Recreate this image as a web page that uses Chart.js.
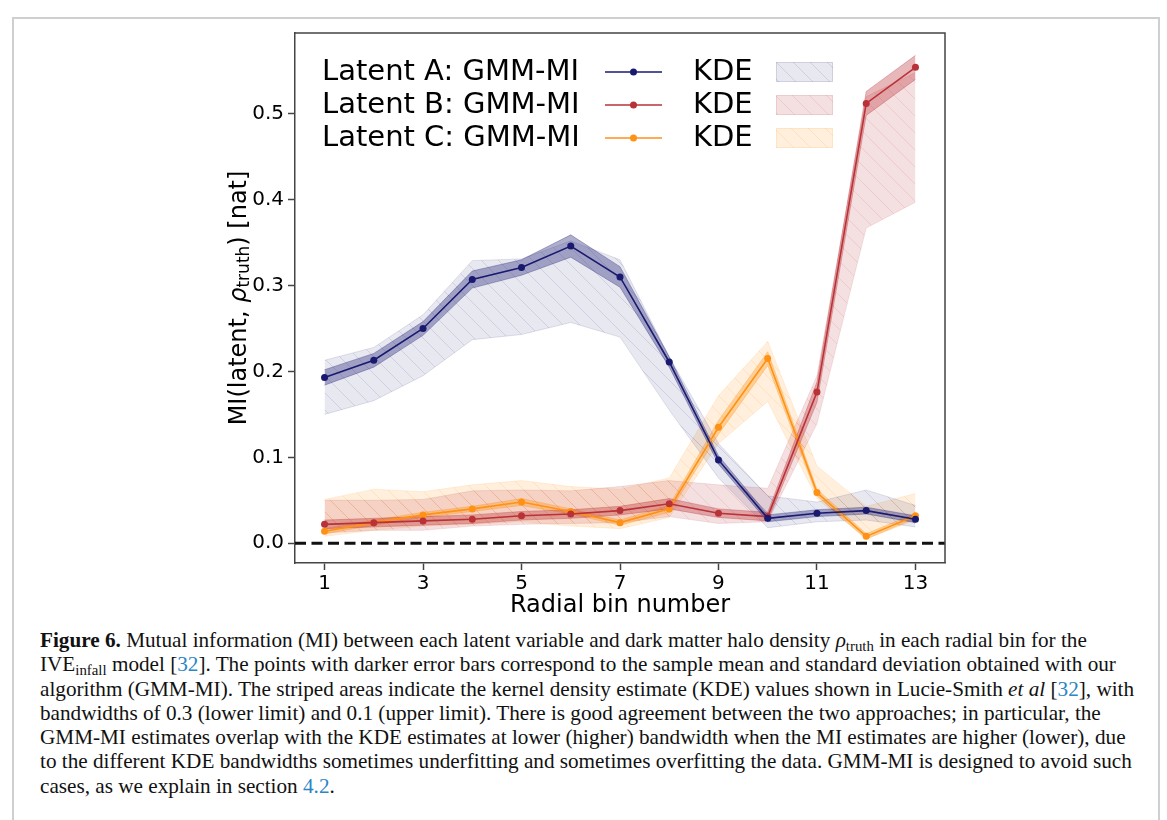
<!DOCTYPE html>
<html>
<head>
<meta charset="utf-8">
<script src="https://cdn.jsdelivr.net/npm/chart.js@4.4.1/dist/chart.umd.min.js"></script>
<style>
  html, body { margin: 0; padding: 0; background: #fff; }
  body { width: 1167px; height: 820px; position: relative; overflow: hidden; }
  .frame { position: absolute; left: 12px; top: 17px; width: 1144px; height: 830px; border: 2px solid #cfcfcf; border-bottom: none; }
  .wrap { position: absolute; left: 0; top: 0; width: 1167px; height: 625px; }
  .caption { position: absolute; left: 40px; top: 628px; font-family: "Liberation Serif", "DejaVu Serif", serif; font-size: 21.2px; line-height: 24.3px; color: #111; white-space: nowrap; }
  .caption a { color: #2a86c4; text-decoration: none; }
  .caption sub { font-size: 70%; line-height: 0; vertical-align: -0.3em; }
</style>
</head>
<body>
<div class="frame"></div>
<div class="wrap"><canvas id="chart" width="1167" height="625"></canvas></div>
<div class="caption">
<b>Figure 6.</b> Mutual information (MI) between each latent variable and dark matter halo density <i>ρ</i><sub>truth</sub> in each radial bin for the<br>
IVE<sub>infall</sub> model [<a>32</a>]. The points with darker error bars correspond to the sample mean and standard deviation obtained with our<br>
algorithm (GMM-MI). The striped areas indicate the kernel density estimate (KDE) values shown in Lucie-Smith <i>et al</i> [<a>32</a>], with<br>
bandwidths of 0.3 (lower limit) and 0.1 (upper limit). There is good agreement between the two approaches; in particular, the<br>
GMM-MI estimates overlap with the KDE estimates at lower (higher) bandwidth when the MI estimates are higher (lower), due<br>
to the different KDE bandwidths sometimes underfitting and sometimes overfitting the data. GMM-MI is designed to avoid such<br>
cases, as we explain in section <a>4.2</a>.
</div>
<script>
const bins = [1, 2, 3, 4, 5, 6, 7, 8, 9, 10, 11, 12, 13]
const xTicks = [1, 3, 5, 7, 9, 11, 13]
const yTicks = [0, 0.1, 0.2, 0.3, 0.4, 0.5]
const legendNames = ['Latent A: GMM-MI', 'Latent B: GMM-MI', 'Latent C: GMM-MI']
const kdeLabel = 'KDE'

// GMM-MI mean and std
const latentA = [0.193, 0.213, 0.250, 0.307, 0.321, 0.346, 0.310, 0.211, 0.097, 0.029, 0.035, 0.038, 0.028]
const latentAErr = [0.009, 0.008, 0.008, 0.010, 0.009, 0.013, 0.012, 0.006, 0.005, 0.004, 0.004, 0.004, 0.004]
const latentB = [0.022, 0.024, 0.026, 0.028, 0.032, 0.034, 0.038, 0.046, 0.035, 0.031, 0.176, 0.512, 0.554]
const latentBErr = [0.005, 0.005, 0.005, 0.005, 0.005, 0.005, 0.005, 0.006, 0.005, 0.005, 0.012, 0.014, 0.014]
const latentC = [0.014, 0.024, 0.033, 0.040, 0.048, 0.037, 0.024, 0.040, 0.135, 0.215, 0.059, 0.008, 0.032]
const latentCErr = [0.003, 0.003, 0.003, 0.003, 0.004, 0.003, 0.003, 0.004, 0.008, 0.008, 0.004, 0.003, 0.003]

// KDE limits (bandwidth 0.3 lower, 0.1 upper)
const kdeALow = [0.150, 0.166, 0.195, 0.237, 0.243, 0.257, 0.240, 0.155, 0.076, 0.018, 0.025, 0.027, 0.019]
const kdeAHigh = [0.213, 0.228, 0.266, 0.329, 0.331, 0.352, 0.330, 0.217, 0.116, 0.055, 0.048, 0.062, 0.044]
const kdeBLow = [0.012, 0.015, 0.015, 0.020, 0.022, 0.023, 0.024, 0.031, 0.023, 0.025, 0.139, 0.367, 0.397]
const kdeBHigh = [0.050, 0.050, 0.051, 0.061, 0.062, 0.061, 0.066, 0.073, 0.068, 0.064, 0.195, 0.520, 0.548]
const kdeCLow = [0.008, 0.015, 0.020, 0.022, 0.025, 0.020, 0.017, 0.030, 0.116, 0.165, 0.052, 0.005, 0.027]
const kdeCHigh = [0.051, 0.063, 0.060, 0.068, 0.073, 0.066, 0.063, 0.076, 0.172, 0.235, 0.090, 0.043, 0.058]

const colA = '25,25,112'
const colB = '185,50,55'
const colC = '255,145,20'

const canvas = document.getElementById('chart')
const ctx0 = canvas.getContext('2d')

function hatch(rgb, a1, a2) {
  const s = 17
  const c = document.createElement('canvas')
  c.width = s; c.height = s
  const g = c.getContext('2d')
  g.fillStyle = 'rgba(' + rgb + ',' + a1 + ')'
  g.fillRect(0, 0, s, s)
  g.strokeStyle = 'rgba(' + rgb + ',' + a2 + ')'
  g.lineWidth = 1
  g.beginPath()
  g.moveTo(-2, -2); g.lineTo(s + 2, s + 2)
  g.moveTo(-2, s - 2); g.lineTo(2, s + 2)
  g.moveTo(s - 2, -2); g.lineTo(s + 2, 2)
  g.stroke()
  return ctx0.createPattern(c, 'repeat')
}

const series = [
  { mean: latentA, err: latentAErr, lo: kdeALow, hi: kdeAHigh, rgb: colA, pat: hatch(colA, 0.1, 0.12) },
  { mean: latentB, err: latentBErr, lo: kdeBLow, hi: kdeBHigh, rgb: colB, pat: hatch(colB, 0.15, 0.12) },
  { mean: latentC, err: latentCErr, lo: kdeCLow, hi: kdeCHigh, rgb: colC, pat: hatch(colC, 0.15, 0.14) }
]

function pts(arr) {
  return bins.map((b, i) => ({ x: b, y: arr[i] }))
}

const datasets = []
series.forEach((s) => {
  let base = datasets.length
  datasets.push({ data: pts(s.lo), borderColor: 'rgba(' + s.rgb + ',0.12)', borderWidth: 1, pointRadius: 0, fill: false, order: 10 })
  datasets.push({ data: pts(s.hi), borderColor: 'rgba(' + s.rgb + ',0.12)', borderWidth: 1, pointRadius: 0, fill: { target: base }, backgroundColor: s.pat, order: 10 })
  base = datasets.length
  datasets.push({ data: pts(s.mean.map((v, i) => v - s.err[i])), borderColor: 'rgba(' + s.rgb + ',0.3)', borderWidth: 1, pointRadius: 0, fill: false, order: 5 })
  datasets.push({ data: pts(s.mean.map((v, i) => v + s.err[i])), borderColor: 'rgba(' + s.rgb + ',0.3)', borderWidth: 1, pointRadius: 0, fill: { target: base }, backgroundColor: 'rgba(' + s.rgb + ',0.35)', order: 5 })
  datasets.push({ data: pts(s.mean), borderColor: 'rgb(' + s.rgb + ')', backgroundColor: 'rgb(' + s.rgb + ')', borderWidth: 1.6, pointRadius: 3.5, pointBorderWidth: 0, fill: false, order: 1 })
})

const font = '"DejaVu Sans", sans-serif'

const decor = {
  id: 'decor',
  afterDatasetsDraw(chart) {
    const { ctx, chartArea: a, scales: { y } } = chart
    const y0 = y.getPixelForValue(0)
    ctx.save()
    ctx.strokeStyle = '#111'
    ctx.lineWidth = 2.8
    ctx.setLineDash([11, 5.5])
    ctx.beginPath(); ctx.moveTo(a.left, y0); ctx.lineTo(a.right, y0); ctx.stroke()
    ctx.restore()
  },
  afterDraw(chart) {
    const { ctx, chartArea: a } = chart
    ctx.save()
    // top and right spines
    ctx.strokeStyle = '#444'
    ctx.lineWidth = 1.5
    ctx.beginPath()
    ctx.moveTo(a.left, a.top); ctx.lineTo(a.right, a.top); ctx.lineTo(a.right, a.bottom)
    ctx.stroke()

    // legend
    const rows = [72, 105, 138]
    ctx.font = '29px ' + font
    ctx.textBaseline = 'middle'
    series.forEach((s, i) => {
      const ry = rows[i]
      ctx.fillStyle = '#000'
      ctx.textAlign = 'left'
      ctx.fillText(legendNames[i], 322, ry)
      ctx.fillText(kdeLabel, 693, ry)
      ctx.strokeStyle = 'rgb(' + s.rgb + ')'
      ctx.lineWidth = 1.6
      ctx.beginPath(); ctx.moveTo(605, ry); ctx.lineTo(662, ry); ctx.stroke()
      ctx.fillStyle = 'rgb(' + s.rgb + ')'
      ctx.beginPath(); ctx.arc(633.5, ry, 3.5, 0, Math.PI * 2); ctx.fill()
      ctx.fillStyle = s.pat
      ctx.fillRect(776, ry - 10, 57, 20)
      ctx.strokeStyle = 'rgba(' + s.rgb + ',0.12)'
      ctx.lineWidth = 1
      ctx.strokeRect(776.5, ry - 9.5, 56, 19)
    })

    // x title
    ctx.fillStyle = '#000'
    ctx.textAlign = 'center'
    ctx.font = '24px ' + font
    ctx.fillText('Radial bin number', (a.left + a.right) / 2, 606)

    // y title with subscript
    const parts = [
      { t: 'MI(latent, ', f: '24px ' + font, dy: 0 },
      { t: 'ρ', f: 'italic 24px ' + font, dy: 0 },
      { t: 'truth', f: '17px ' + font, dy: 5 },
      { t: ') [nat]', f: '24px ' + font, dy: 0 }
    ]
    let total = 0
    parts.forEach(p => { ctx.font = p.f; p.w = ctx.measureText(p.t).width; total += p.w })
    ctx.translate(240, (a.top + a.bottom) / 2)
    ctx.rotate(-Math.PI / 2)
    ctx.textAlign = 'left'
    let px = -total / 2
    parts.forEach(p => {
      ctx.font = p.f
      ctx.fillText(p.t, px, p.dy)
      px += p.w
    })
    ctx.restore()
  }
}

new Chart(canvas, {
  type: 'line',
  data: { datasets: datasets },
  options: {
    responsive: false,
    animation: false,
    devicePixelRatio: 1,
    layout: { padding: { left: 225, right: 222, top: 33, bottom: 2 } },
    plugins: { legend: { display: false }, tooltip: { enabled: false } },
    elements: { line: { tension: 0 } },
    scales: {
      x: {
        type: 'linear',
        min: 0.4,
        max: 13.6,
        afterBuildTicks: (s) => { s.ticks = xTicks.map(v => ({ value: v })) },
        afterFit: (s) => { s.height = 60 },
        grid: { drawOnChartArea: false, drawTicks: true, tickLength: 7, tickWidth: 1.5, color: '#444' },
        border: { display: true, color: '#444', width: 1.5 },
        ticks: { color: '#000', font: { family: font, size: 20 }, padding: 2, maxRotation: 0 }
      },
      y: {
        type: 'linear',
        min: -0.023,
        max: 0.594,
        afterBuildTicks: (s) => { s.ticks = yTicks.map(v => ({ value: v })) },
        afterFit: (s) => { s.width = 70 },
        grid: { drawOnChartArea: false, drawTicks: true, tickLength: 7, tickWidth: 1.5, color: '#444' },
        border: { display: true, color: '#444', width: 1.5 },
        ticks: { color: '#000', font: { family: font, size: 20 }, padding: 4, callback: (v) => v.toFixed(1) }
      }
    }
  },
  plugins: [decor]
})
</script>
</body>
</html>
